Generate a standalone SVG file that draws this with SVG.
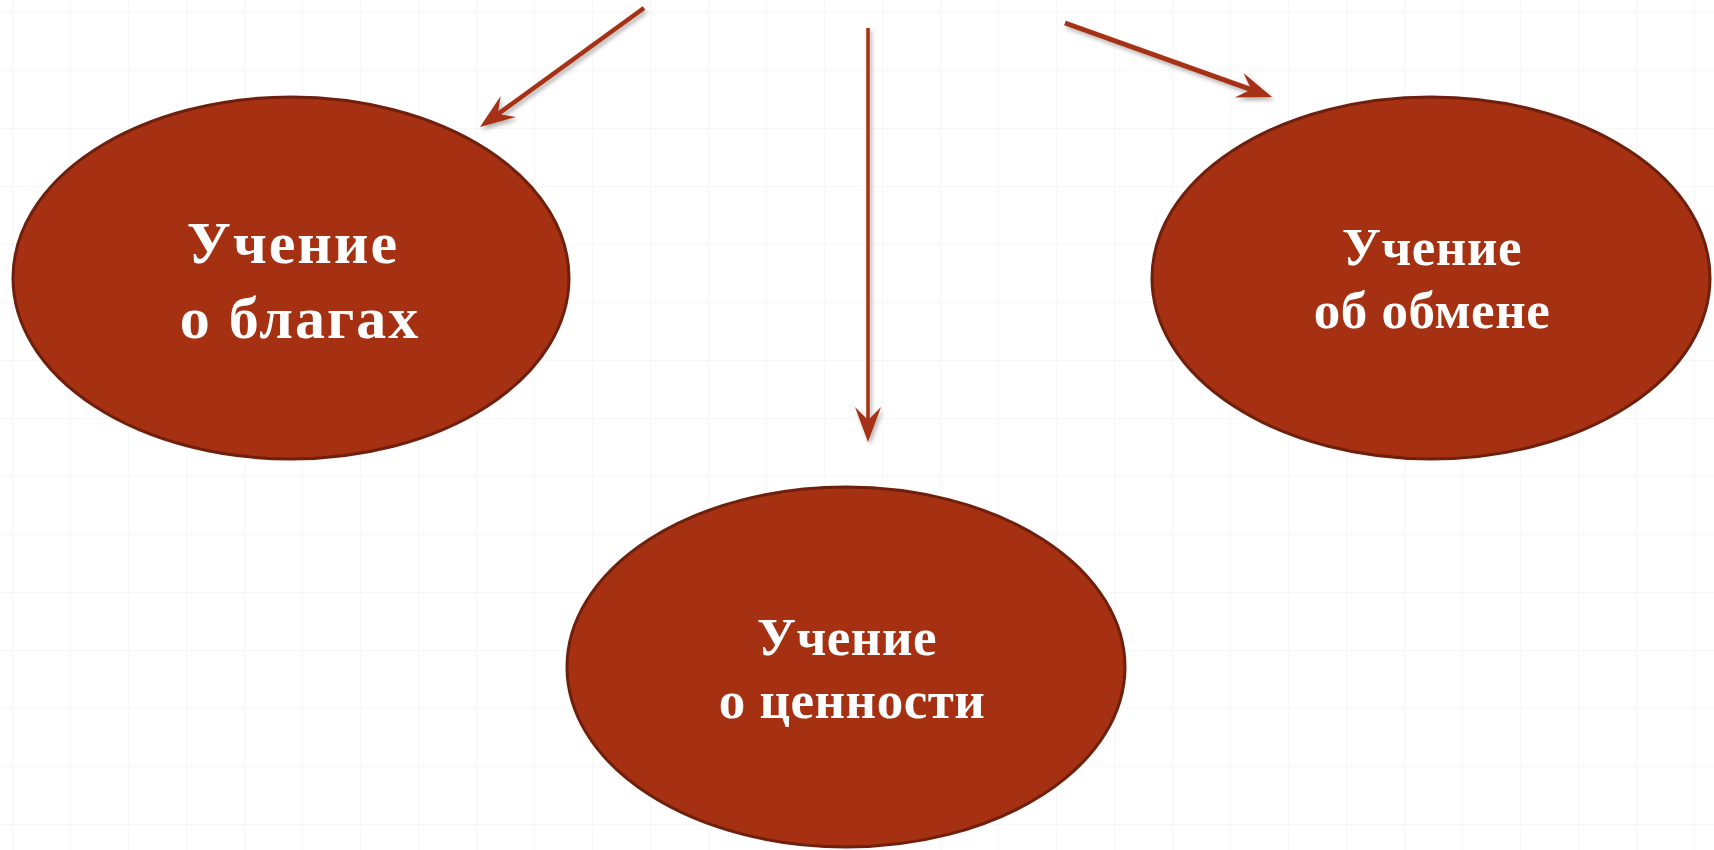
<svg xmlns="http://www.w3.org/2000/svg" width="1714" height="850" viewBox="0 0 1714 850">
<style>
.node ellipse{fill:#a53012;stroke:#6f1f0c;stroke-width:3}
.node text{font-family:"Liberation Serif","Times New Roman",serif;font-weight:bold;fill:#ffffff;text-anchor:middle}
.big{font-size:60px;letter-spacing:2px}
.mid{font-size:53px;letter-spacing:0.5px}
.conn line{stroke:#a53012;fill:none}
</style>
<defs>
<pattern id="grid" width="58" height="58" patternUnits="userSpaceOnUse" x="12" y="12">
<path d="M0,0 H58 M0,0 V58" stroke="#f5f5f5" stroke-width="1.5" fill="none"/>
</pattern>
<marker id="arr" markerUnits="userSpaceOnUse" viewBox="-36 -14 40 28" refX="-22" refY="0" markerWidth="40" markerHeight="28" orient="auto">
<path d="M0,0 L-35,-13 L-22,0 L-35,13 Z" fill="#a53012"/>
</marker>
<filter id="sh" x="-20%" y="-20%" width="140%" height="140%">
<feDropShadow dx="2" dy="3" stdDeviation="2" flood-color="#000" flood-opacity="0.3"/>
</filter>
</defs>
<rect width="1714" height="850" fill="#ffffff"/>
<rect width="1714" height="850" fill="url(#grid)"/>
<g id="connectors" class="conn" filter="url(#sh)">
<line x1="644" y1="8" x2="497.8" y2="114.1" stroke-width="4.5" marker-end="url(#arr)"/>
<line x1="868" y1="28" x2="868" y2="420" stroke-width="3.5" marker-end="url(#arr)"/>
<line x1="1065" y1="23" x2="1251.3" y2="89.6" stroke-width="5" marker-end="url(#arr)"/>
</g>
<g id="node-blaga" class="node">
<ellipse cx="291" cy="278" rx="278" ry="181"/>
<text class="big" x="293" y="263">Учение</text>
<text class="big" x="300" y="338">о благах</text>
</g>
<g id="node-obmen" class="node">
<ellipse cx="1431" cy="278" rx="279" ry="181"/>
<text class="mid" x="1432" y="265">Учение</text>
<text class="mid" x="1432" y="328">об обмене</text>
</g>
<g id="node-tsennost" class="node">
<ellipse cx="846" cy="667" rx="279" ry="180"/>
<text class="mid" x="847" y="655">Учение</text>
<text class="mid" x="852" y="718">о ценности</text>
</g>
</svg>
